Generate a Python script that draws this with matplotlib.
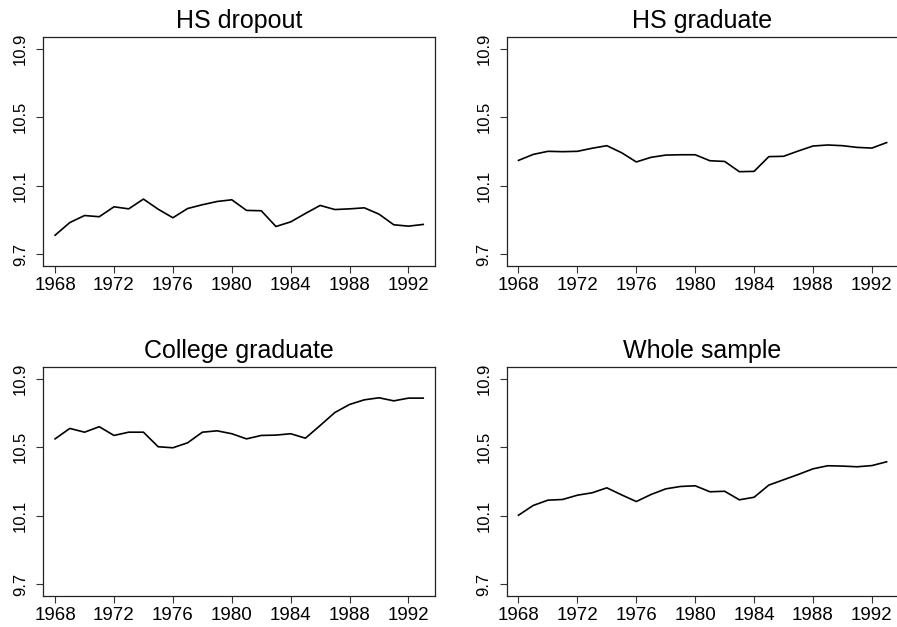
import matplotlib
matplotlib.use("Agg")
import matplotlib.pyplot as plt

plt.rcParams['font.family'] = ['Liberation Sans', 'DejaVu Sans']

# data
years = list(range(1968, 1994))
hs_dropout = [9.811, 9.885, 9.926, 9.919, 9.977, 9.965, 10.022, 9.963, 9.913, 9.967,
              9.989, 10.008, 10.018, 9.956, 9.954, 9.862, 9.889, 9.938, 9.985, 9.961,
              9.965, 9.971, 9.934, 9.872, 9.864, 9.874]
hs_graduate = [10.248, 10.283, 10.301, 10.299, 10.301, 10.319, 10.334, 10.293, 10.239, 10.266,
               10.279, 10.281, 10.281, 10.246, 10.242, 10.182, 10.184, 10.270, 10.272, 10.303,
               10.332, 10.338, 10.334, 10.324, 10.320, 10.352]
college_graduate = [10.549, 10.610, 10.588, 10.620, 10.569, 10.588, 10.588, 10.503, 10.497, 10.526,
                    10.588, 10.596, 10.579, 10.549, 10.569, 10.571, 10.579, 10.553, 10.627, 10.703,
                    10.750, 10.777, 10.789, 10.771, 10.787, 10.787]
whole_sample = [10.103, 10.160, 10.191, 10.195, 10.220, 10.234, 10.263, 10.222, 10.183, 10.224,
                10.257, 10.271, 10.275, 10.240, 10.243, 10.193, 10.208, 10.279, 10.310, 10.341,
                10.374, 10.392, 10.390, 10.386, 10.393, 10.415]

titles = ["HS dropout", "HS graduate", "College graduate", "Whole sample"]
series = [hs_dropout, hs_graduate, college_graduate, whole_sample]
xticks = [1968, 1972, 1976, 1980, 1984, 1988, 1992]
yticks = [9.7, 10.1, 10.5, 10.9]

fig = plt.figure(figsize=(8.97, 6.27), dpi=100)

W, H = 897, 627
boxes = [  # left, top, right, bottom in pixels
    (43.3, 37.3, 435.0, 265.7),
    (506.7, 37.3, 898.4, 265.7),
    (43.3, 367.3, 435.0, 595.7),
    (506.7, 367.3, 898.4, 595.7),
]

for (l, t, r, b), title, vals in zip(boxes, titles, series):
    ax = fig.add_axes([l / W, 1 - b / H, (r - l) / W, (b - t) / H])
    ax.plot(years, vals, color='black', lw=1.2)
    ax.set_xlim(1967.2, 1993.8)
    ax.set_ylim(9.633, 10.967)
    ax.set_xticks(xticks)
    ax.set_xticklabels([str(x) for x in xticks], fontsize=13.5)
    ax.set_yticks(yticks)
    ax.set_yticklabels([str(y) for y in yticks], fontsize=12, rotation=90, va='center')
    ax.tick_params(direction='out', length=5, width=0.8, color='#333333')
    ax.tick_params(axis='x', pad=3)
    ax.tick_params(axis='y', pad=6)
    for s in ax.spines.values():
        s.set_linewidth(0.9)
        s.set_color('#222222')
    ax.set_title(title, fontsize=18, pad=7)

fig.savefig("out.png", dpi=100)
